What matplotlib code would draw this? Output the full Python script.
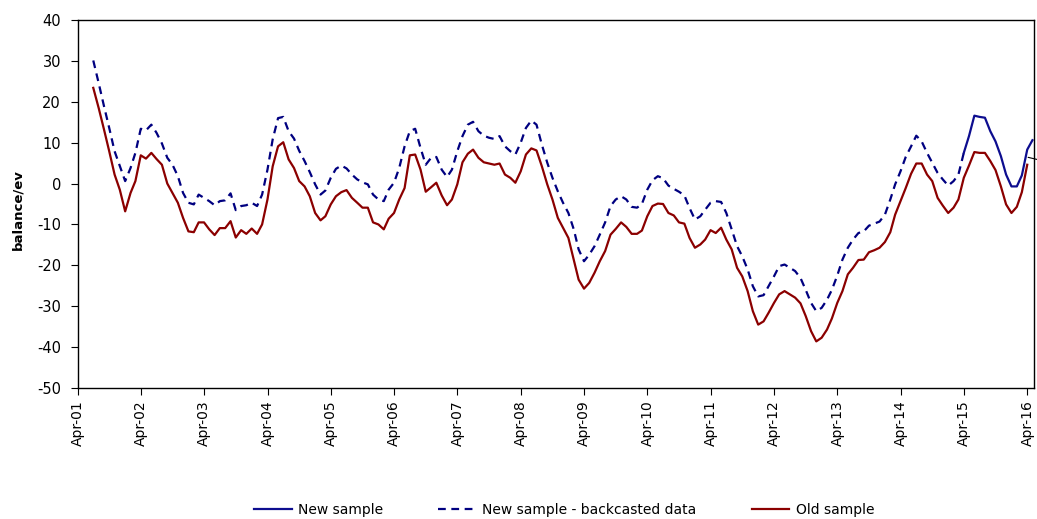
import numpy as np
import pandas as pd
import matplotlib
matplotlib.use("Agg")
import matplotlib.pyplot as plt
import matplotlib.dates as mdates

plt.rcParams["axes.unicode_minus"] = False

# monthly readings, Jun-2001 .. Mar-2016 (old sample)
old_sample = [
    23.4, 18.5, 13.2, 7.9, 2.2, -1.5, -6.8, -2.3, 0.6, 6.9, 6.1, 7.5,
    6.0, 4.6, 0.0, -2.3, -4.7, -8.4, -11.7, -11.9, -9.5, -9.5, -11.2, -12.6,
    -10.9, -10.9, -9.2, -13.2, -11.4, -12.3, -11.0, -12.3, -10.0, -3.9, 4.2, 9.1,
    10.1, 5.9, 3.8, 0.6, -0.7, -3.1, -7.2, -9.0, -8.0, -5.1, -3.1, -2.1,
    -1.6, -3.5, -4.7, -5.9, -5.9, -9.5, -10.0, -11.2, -8.6, -7.2, -3.9, -1.1,
    6.9, 7.1, 3.4, -2.0, -0.9, 0.2, -2.9, -5.3, -3.9, -0.2, 5.2, 7.3,
    8.3, 6.3, 5.2, 4.9, 4.6, 4.9, 2.2, 1.4, 0.2, 3.0, 7.1, 8.6,
    8.1, 4.2, -0.2, -3.9, -8.4, -10.8, -13.3, -18.6, -23.5, -25.7, -24.3, -21.8,
    -19.0, -16.5, -12.5, -11.1, -9.5, -10.6, -12.3, -12.3, -11.5, -8.0, -5.5, -4.9,
    -5.0, -7.2, -7.8, -9.5, -9.8, -13.3, -15.7, -14.9, -13.7, -11.4, -12.1, -10.8,
    -13.7, -16.1, -20.6, -22.7, -26.3, -31.2, -34.5, -33.7, -31.6, -29.2, -27.1, -26.3,
    -27.1, -27.9, -29.3, -32.4, -36.1, -38.6, -37.7, -35.7, -33.0, -29.2, -26.3, -22.2,
    -20.6, -18.7, -18.6, -16.8, -16.3, -15.7, -14.3, -11.9, -7.6, -4.3, -1.1, 2.4,
    4.9, 4.9, 2.2, 0.6, -3.5, -5.4, -7.2, -5.9, -3.9, 1.4, 4.4, 7.7,
    7.5, 7.5, 5.5, 3.3, -0.7, -5.1, -7.2, -5.7, -2.1, 4.6,
]

# new sample, backcasted part, Jun-2001 .. Nov-2014
backcast = [
    30.1, 24.6, 18.9, 13.6, 7.9, 4.3, 0.6, 3.8, 7.5, 13.4, 13.0, 14.4,
    12.4, 9.8, 6.3, 4.6, 1.8, -2.3, -4.7, -5.1, -2.7, -3.5, -4.3, -5.3,
    -4.3, -4.1, -2.4, -6.5, -5.5, -5.3, -4.7, -5.5, -2.7, 3.4, 10.8, 16.0,
    16.3, 12.8, 11.0, 8.0, 5.5, 2.8, -0.2, -2.7, -1.7, 1.4, 3.6, 4.4,
    3.7, 2.2, 1.0, 0.3, -0.2, -2.7, -3.9, -4.3, -1.5, 0.2, 3.8, 9.1,
    12.8, 13.4, 8.7, 4.6, 6.3, 6.5, 3.4, 1.6, 3.4, 7.9, 11.6, 14.4,
    15.1, 12.8, 11.7, 11.2, 10.9, 11.6, 9.1, 7.9, 7.1, 10.0, 13.6, 15.4,
    14.4, 9.5, 5.1, 1.4, -1.9, -4.7, -7.2, -11.2, -16.1, -19.0, -17.4, -15.3,
    -12.5, -9.5, -5.5, -3.9, -3.1, -3.9, -5.7, -5.9, -5.0, -1.5, 0.8, 1.8,
    1.3, -0.5, -1.3, -2.0, -2.9, -6.0, -8.8, -8.0, -6.4, -4.7, -4.3, -4.5,
    -7.2, -11.2, -15.3, -17.8, -21.0, -25.1, -27.6, -27.3, -25.1, -22.7, -20.2, -19.8,
    -20.6, -21.4, -23.1, -26.0, -29.2, -31.2, -30.4, -28.4, -26.0, -22.5, -18.6, -15.7,
    -13.7, -12.1, -11.7, -10.3, -9.8, -9.3, -7.6, -3.9, -0.2, 3.0, 6.5, 9.1,
    11.7, 10.3, 7.5, 5.1, 2.6, 1.0, -0.5, 0.6, 2.2, 7.5,
]

# new sample, Nov-2014 .. Apr-2016
new_sample = [7.5, 11.6, 16.6, 16.3, 16.1, 12.8, 10.3, 6.7, 2.2, -0.7, -0.7, 2.0, 8.3, 10.6]

start = "2001-06-01"
months = pd.date_range(start, periods=len(old_sample) + 1, freq="MS") + pd.offsets.MonthEnd(0)
old_dates = months[:len(old_sample)]
back_dates = months[:len(backcast)]
new_dates = months[len(backcast) - 1:len(backcast) - 1 + len(new_sample)]

# stray leader mark at the right edge of the original
leader_x = pd.to_datetime(["2016-04-06", "2016-05-26"])
leader_y = [6.4, 5.9]

fig = plt.figure(figsize=(10.37, 5.19), dpi=100)
ax = fig.add_axes([0.0749, 0.2524, 0.9222, 0.7091])

navy = "#000080"
dark_red = "#8b0000"

ax.plot(new_dates, new_sample, color="#0d0d8f", lw=1.6, label="New sample")
ax.plot(back_dates, backcast, color=navy, lw=1.6, dashes=(3.5, 2.5),
        label="New sample - backcasted data")
ax.plot(old_dates, old_sample, color=dark_red, lw=1.6, label="Old sample")
ax.plot(leader_x, leader_y, color="black", lw=0.8, clip_on=False)

ax.set_ylim(-50, 40)
ax.set_yticks(np.arange(-50, 41, 10))
ax.set_xlim(pd.Timestamp("2001-04-01"), pd.Timestamp("2016-05-09"))
ax.xaxis.set_major_locator(mdates.MonthLocator(bymonth=4, bymonthday=1))
ax.xaxis.set_major_formatter(mdates.DateFormatter("%b-%y"))
ax.tick_params(axis="x", rotation=90, labelsize=10, length=5, direction="out", pad=4)
ax.tick_params(axis="y", labelsize=10.5, length=5, direction="out", pad=7)

for sp in ax.spines.values():
    sp.set_color("black")
    sp.set_linewidth(1.0)

fig.text(0.0174, 0.597, "balance/ev", rotation=90, ha="center", va="center",
         fontsize=9.5, fontweight="bold")

fig.legend(loc="center", bbox_to_anchor=(0.544, 0.017), ncol=3, frameon=False,
           fontsize=10, handlelength=2.7, handletextpad=0.45, columnspacing=4.0)

fig.savefig("out.png", dpi=100)
